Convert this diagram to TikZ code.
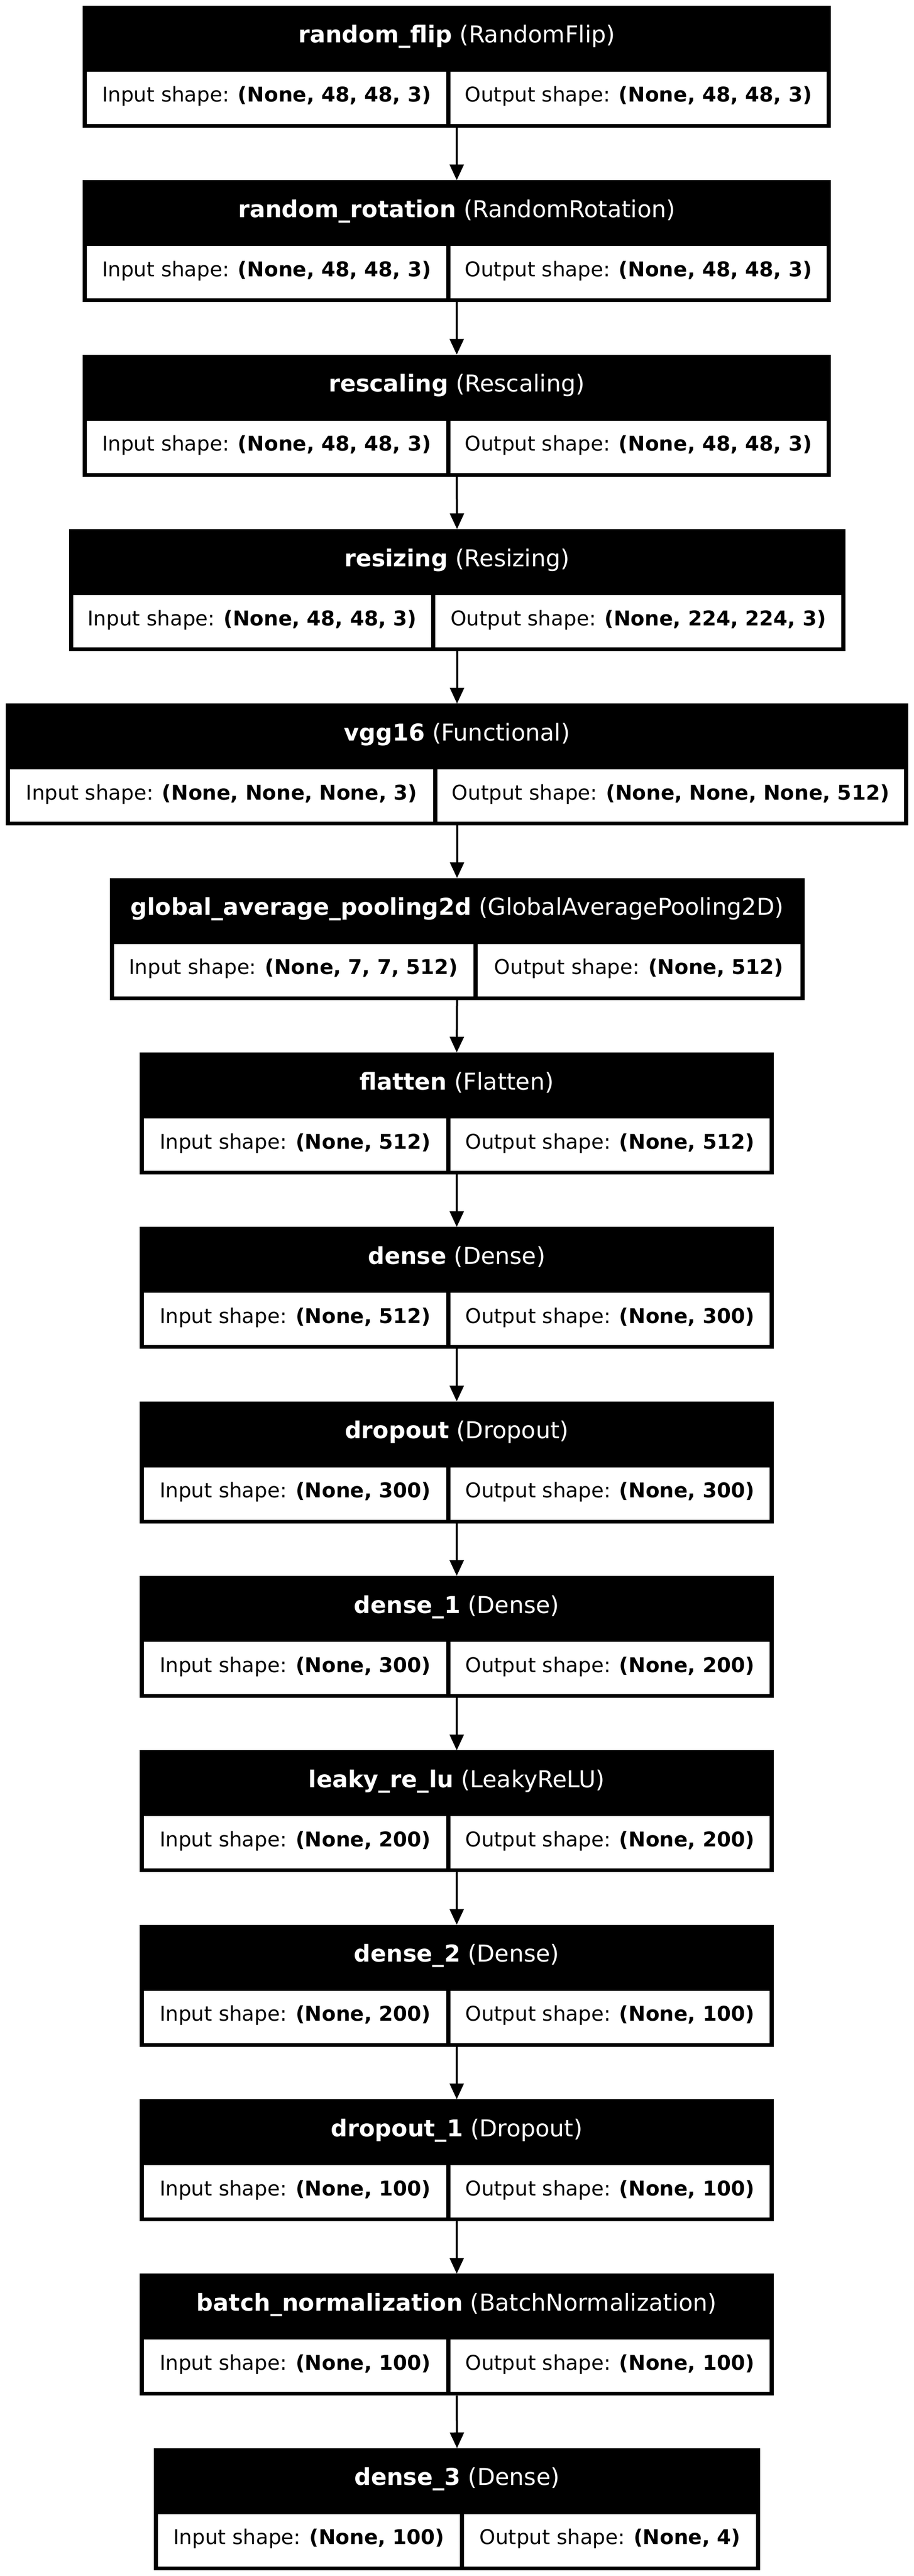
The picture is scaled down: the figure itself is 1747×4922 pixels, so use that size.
\documentclass[tikz,border=0pt]{standalone}
\usepackage{fontspec}
\setmainfont{DejaVu Sans}
\usetikzlibrary{arrows.meta}
\tikzset{
  outerbox/.style={rectangle, fill=black, draw=none, inner sep=0pt, outer sep=0pt},
  cellbox/.style={fill=white},
  hdrtext/.style={text=white, font=\fontsize{16}{19}\selectfont, inner sep=0pt, anchor=base},
  celltext/.style={text=black, font=\fontsize{14}{17}\selectfont, inner sep=0pt, anchor=base},
  flowarrow/.style={-{Triangle[length=10.8pt,width=9.6pt]}, line width=1.44pt, draw=black},
}
% #1 index, #2 left, #3 right, #4 divider, #5 title, #6 input, #7 output
\newcommand\mklayer[7]{%
  \pgfmathsetmacro\lyTop{11+333.333*#1}%
  \pgfmathsetmacro\lyCx{(#2+#3)/2}%
  \pgfmathsetmacro\lyCy{\lyTop+116.5}%
  \pgfmathsetmacro\lyWd{(#3-#2)*0.36}%
  \pgfmathsetmacro\lyIx{(#2+8+#4-4)/2}%
  \pgfmathsetmacro\lyOx{(#4+4+#3-8)/2}%
  \node[outerbox, minimum width=\lyWd pt, minimum height=83.88pt] (b#1) at (\lyCx,\lyCy) {};
  \fill[cellbox] (#2+8,\lyTop+126) rectangle (#4-4,\lyTop+226);
  \fill[cellbox] (#4+4,\lyTop+126) rectangle (#3-8,\lyTop+226);
  \node[hdrtext] (t#1) at (\lyCx,\lyTop+71) {#5};
  \node[celltext] (i#1) at (\lyIx,\lyTop+184) {Input shape: \textbf{#6}};
  \node[celltext] (o#1) at (\lyOx,\lyTop+184) {Output shape: \textbf{#7}};
}
\begin{document}
\begin{tikzpicture}[x=0.36pt,y=-0.36pt]
\fill[white] (0,0) rectangle (1747,4922);
\useasboundingbox (0,0) rectangle (1747,4922);
\mklayer{0}{158.3}{1587.7}{856.8}{\textbf{random\_flip} (RandomFlip)}{(None, 48, 48, 3)}{(None, 48, 48, 3)}
\mklayer{1}{158.3}{1587.7}{856.8}{\textbf{random\_rotation} (RandomRotation)}{(None, 48, 48, 3)}{(None, 48, 48, 3)}
\mklayer{2}{158.3}{1587.7}{856.8}{\textbf{rescaling} (Rescaling)}{(None, 48, 48, 3)}{(None, 48, 48, 3)}
\mklayer{3}{131.5}{1615.6}{828.4}{\textbf{resizing} (Resizing)}{(None, 48, 48, 3)}{(None, 224, 224, 3)}
\mklayer{4}{11.1}{1736}{831.8}{\textbf{vgg16} (Functional)}{(None, None, None, 3)}{(None, None, None, 512)}
\mklayer{5}{209.5}{1537.6}{908.6}{\textbf{global\_average\_pooling2d} (GlobalAveragePooling2D)}{(None, 7, 7, 512)}{(None, 512)}
\mklayer{6}{267.4}{1478.6}{857}{\textbf{flatten} (Flatten)}{(None, 512)}{(None, 512)}
\mklayer{7}{267.4}{1478.6}{857}{\textbf{dense} (Dense)}{(None, 512)}{(None, 300)}
\mklayer{8}{267.4}{1478.6}{857}{\textbf{dropout} (Dropout)}{(None, 300)}{(None, 300)}
\mklayer{9}{267.4}{1478.6}{857}{\textbf{dense\_1} (Dense)}{(None, 300)}{(None, 200)}
\mklayer{10}{267.4}{1478.6}{857}{\textbf{leaky\_re\_lu} (LeakyReLU)}{(None, 200)}{(None, 200)}
\mklayer{11}{267.4}{1478.6}{857}{\textbf{dense\_2} (Dense)}{(None, 200)}{(None, 100)}
\mklayer{12}{267.4}{1478.6}{857}{\textbf{dropout\_1} (Dropout)}{(None, 100)}{(None, 100)}
\mklayer{13}{267.4}{1478.6}{857}{\textbf{batch\_normalization} (BatchNormalization)}{(None, 100)}{(None, 100)}
\mklayer{14}{294}{1453}{883}{\textbf{dense\_3} (Dense)}{(None, 100)}{(None, 4)}
\foreach \i [evaluate=\i as \j using int(\i+1)] in {0,...,13}
  \draw[flowarrow] (b\i.south) -- (b\j.north);
\end{tikzpicture}
\end{document}
